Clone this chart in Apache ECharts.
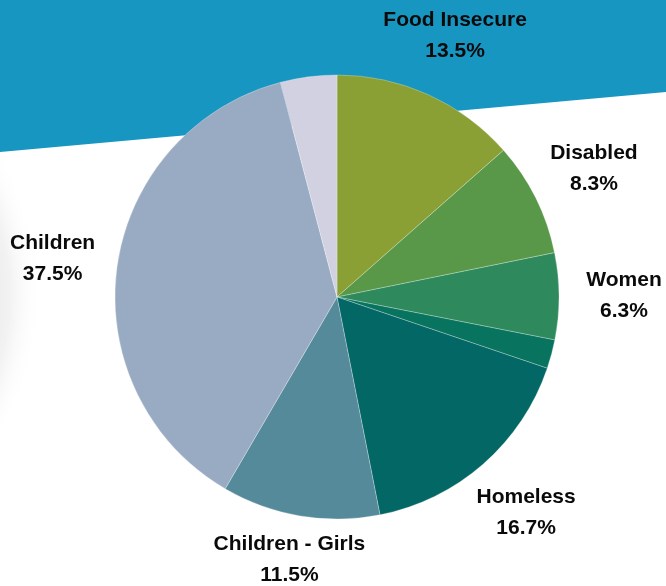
<!DOCTYPE html>
<html>
<head>
<meta charset="utf-8">
<script src="https://cdn.jsdelivr.net/npm/echarts@6/dist/echarts.min.js"></script>
<style>
html,body{margin:0;padding:0;background:#fff;}
#c{width:666px;height:586px;}
</style>
</head>
<body>
<div id="c"></div>
<script>
var categories = ['Food Insecure', 'Disabled', 'Women', '', 'Homeless', 'Children - Girls', 'Children', ''];
var values = [13.5, 8.3, 6.3, 2.1, 16.7, 11.5, 37.5, 4.1];
var showLabel = [true, true, true, false, true, true, true, false];
var colors = ['#8aa035', '#589848', '#2e8a5c', '#08745f', '#036765', '#548a9a', '#99abc3', '#d1d1e1'];

var W = 666, H = 586;
var CX = 337, CY = 297, R = 222, LABEL_R = 287;

var chart = echarts.init(document.getElementById('c'), null, {renderer: 'canvas'});
var total = values.reduce(function (a, b) { return a + b; }, 0);

var data = categories.map(function (n, i) {
  return {
    name: n,
    value: values[i],
    itemStyle: {color: colors[i]},
    label: {show: showLabel[i]}
  };
});

chart.setOption({
  animation: false,
  backgroundColor: '#ffffff',
  graphic: [
    {
      type: 'circle',
      z: 0,
      silent: true,
      shape: {cx: -230, cy: 295, r: 272},
      style: {
        fill: {
          type: 'radial', x: 0.5, y: 0.5, r: 0.5,
          colorStops: [
            {offset: 0, color: '#e4e4e4'},
            {offset: 0.8, color: '#ebebeb'},
            {offset: 0.88, color: '#f2f2f2'},
            {offset: 1, color: 'rgba(255,255,255,0)'}
          ]
        }
      }
    },
    {
      type: 'polygon',
      z: 1,
      silent: true,
      shape: {points: [[0, 0], [W, 0], [W, 92], [0, 152]]},
      style: {fill: '#1796c2'}
    }
  ],
  series: [{
    type: 'pie',
    z: 5,
    center: [CX, CY],
    radius: [0, R],
    startAngle: 90,
    clockwise: true,
    avoidLabelOverlap: false,
    data: data,
    itemStyle: {borderColor: 'rgba(255,255,255,0.45)', borderWidth: 0.6},
    emphasis: {disabled: true},
    label: {
      position: 'outside',
      formatter: function (p) { return p.name + '\n' + p.value.toFixed(1) + '%'; },
      fontFamily: 'Liberation Sans, Arial, sans-serif',
      fontWeight: 'bold',
      fontSize: 21,
      lineHeight: 31,
      color: '#0a0a0a',
      align: 'center'
    },
    labelLine: {show: false},
    labelLayout: function (p) {
      var i = p.dataIndex;
      var cum = 0;
      for (var k = 0; k < i; k++) cum += values[k];
      var th = 2 * Math.PI * (cum + values[i] / 2) / total;
      var x = CX + LABEL_R * Math.sin(th);
      var y = CY - LABEL_R * Math.cos(th);
      var h = p.labelRect.height;
      y = Math.min(y, H - h / 2 + 5);
      y = Math.max(y, h / 2 + 2);
      return {x: x, y: y, align: 'center', verticalAlign: 'middle'};
    }
  }]
});
</script>
</body>
</html>
